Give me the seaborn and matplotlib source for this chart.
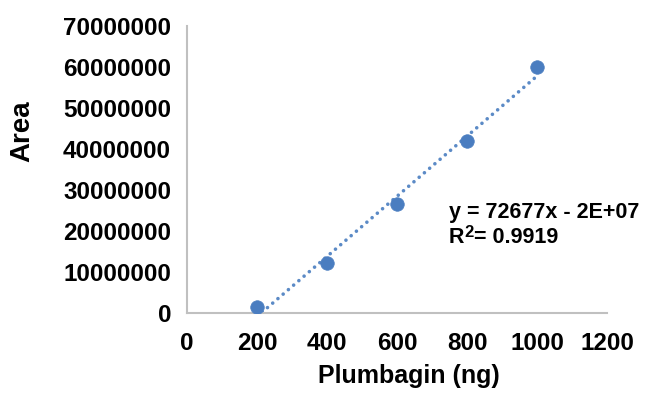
import matplotlib
matplotlib.use("Agg")
import matplotlib.pyplot as plt
import seaborn as sns
import pandas as pd

# Data
plumbagin_ng = [200, 400, 600, 800, 1000]
area = [1.5e6, 12.3e6, 26.5e6, 42.0e6, 60.0e6]
x_ticks = [0, 200, 400, 600, 800, 1000, 1200]
y_ticks = [0, 10000000, 20000000, 30000000, 40000000, 50000000, 60000000, 70000000]
equation_text = "y = 72677x - 2E+07"
r2_main = "R"
r2_sup = "2"
r2_rest = "= 0.9919"

df = pd.DataFrame({"Plumbagin (ng)": plumbagin_ng, "Area": area})

sns.set_theme(style="white")
plt.rcParams["font.family"] = ["Liberation Sans", "DejaVu Sans"]
plt.rcParams["font.weight"] = "bold"
plt.rcParams["text.color"] = "black"
plt.rcParams["axes.labelcolor"] = "black"

fig = plt.figure(figsize=(6.52, 4.04), dpi=100)
ax = fig.add_axes([187 / 652, 1 - 313 / 404, 420 / 652, 287 / 404])

point_color = "#4a7dc0"
line_color = "#5b8ac6"

sns.regplot(data=df, x="Plumbagin (ng)", y="Area", ax=ax, ci=None, scatter=False,
            truncate=True,
            line_kws=dict(color=line_color, linewidth=2.6, linestyle=(0, (0.01, 1.9)),
                          dash_capstyle="round", zorder=2))
sns.scatterplot(data=df, x="Plumbagin (ng)", y="Area", ax=ax, s=95,
                color=point_color, edgecolor=point_color, linewidth=0.5, zorder=3)

ax.set_xlim(0, 1200)
ax.set_ylim(0, 70000000)
ax.set_xticks(x_ticks)
ax.set_yticks(y_ticks)
ax.set_xticklabels([str(v) for v in x_ticks])
ax.set_yticklabels([str(v) for v in y_ticks])

ax.tick_params(axis="both", which="major", length=0, labelsize=17.5, colors="black")
ax.tick_params(axis="y", pad=11.5)
ax.tick_params(axis="x", pad=14)
ax.set_xticks([0], minor=True)
ax.tick_params(axis="x", which="minor", length=7, width=1.5, color="#c0c0c0", direction="out")
for lab in ax.get_xticklabels() + ax.get_yticklabels():
    lab.set_fontweight("bold")

for side in ["top", "right"]:
    ax.spines[side].set_visible(False)
for side in ["left", "bottom"]:
    ax.spines[side].set_color("#c0c0c0")
    ax.spines[side].set_linewidth(1.5)

ax.set_xlabel("Plumbagin (ng)", fontsize=18, fontweight="bold", color="black")
ax.set_ylabel("Area", fontsize=20, fontweight="bold", color="black")
ax.xaxis.set_label_coords(0.529, -0.178)
ax.yaxis.set_label_coords(-0.36, 0.634)

ax.text(0.624, 0.331, equation_text, transform=ax.transAxes, fontsize=15.5,
        fontweight="bold", va="baseline", ha="left", color="black")
t1 = ax.text(0.624, 0.243, r2_main, transform=ax.transAxes, fontsize=15.5,
             fontweight="bold", va="baseline", ha="left", color="black")
t2 = ax.annotate(r2_sup, xy=(1.0, 1.0), xycoords=t1, xytext=(0.3, 1.5),
                 textcoords="offset points", fontsize=12, fontweight="bold",
                 ha="left", va="top", color="black")
ax.annotate(r2_rest, xy=(1.0, 0.0), xycoords=(t2, t1), fontsize=15.5,
            fontweight="bold", ha="left", va="bottom", color="black")

fig.savefig("out.png", dpi=100, facecolor="white")
